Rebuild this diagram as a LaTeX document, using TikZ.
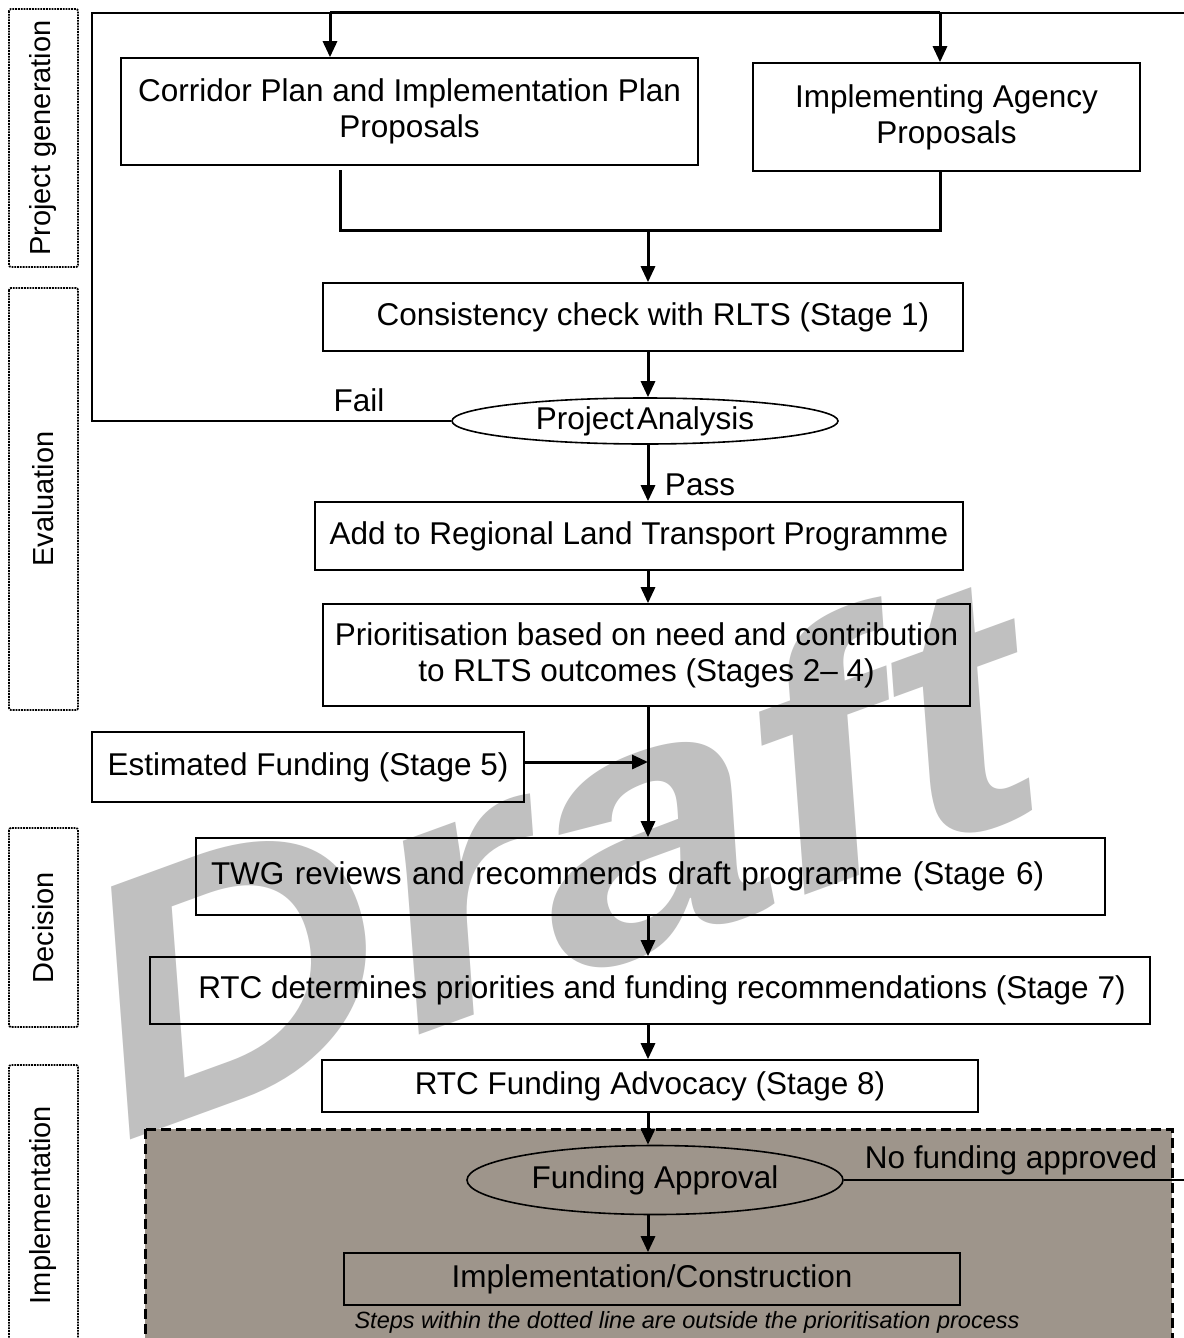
\documentclass[tikz,border=0pt]{standalone}
\usepackage{fontspec}
\setmainfont{Liberation Sans}
\usetikzlibrary{arrows.meta,shapes.geometric}
\definecolor{outsidegrey}{RGB}{158,149,139}
\definecolor{draftgrey}{RGB}{192,192,192}

\begin{document}
\begin{tikzpicture}[x=1pt,y=-1pt,
    font=\fontsize{31.5}{36}\selectfont,
    box/.style={draw, line width=1.6pt, inner sep=0pt, align=center},
    oval/.style={draw, ellipse, line width=1.6pt, inner sep=0pt},
    phase/.style={draw, densely dotted, line width=1.8pt, rounded corners=2pt,
                  rotate=90, inner sep=0pt, minimum height=69pt,
                  font=\fontsize{29}{34}\selectfont},
    flow/.style={line width=3pt, -{Triangle[length=16pt,width=14pt]}},
    link/.style={line width=3pt},
    loopback/.style={line width=1.6pt},
  ]
  \path[use as bounding box, fill=white] (0,0) rectangle (1183,1338);

  % watermark
  \begin{scope}[shift={(123,1143)}, rotate=20, xscale=1.2, xslant=0.04]
    \node[transform shape, anchor=base west, inner sep=0pt, text=draftgrey,
          font=\fontsize{355}{355}\selectfont\bfseries\itshape] (draft) at (0,0) {Draft};
  \end{scope}

  % phases down the left side
  \node[phase, minimum width=258pt] (pgen) at (43.5,138) {Project generation};
  \node[phase, minimum width=422pt] (peval) at (43.5,499) {Evaluation};
  \node[phase, minimum width=199pt] (pdec) at (43.5,927.5) {Decision};
  \node[phase, minimum width=280pt] (pimpl) at (43.5,1205) {Implementation};

  % steps outside the prioritisation process
  \draw[fill=outsidegrey, line width=3pt, dash pattern=on 10pt off 5pt]
    (145,1129) rectangle (1172,1345);

  \node[box, minimum width=577pt, minimum height=107pt] (corridor) at (409.5,111.5)
    {Corridor Plan and Implementation Plan\\Proposals};
  \node[box, minimum width=387pt, minimum height=108pt] (agency) at (946.5,117)
    {Implementing Agency\\Proposals};
  \node[box, minimum width=640pt, minimum height=68pt] (check) at (643,317)
    {\hspace*{20pt}Consistency check with RLTS (Stage 1)};
  \node[oval, minimum width=386pt, minimum height=46pt] (analysis) at (645,421)
    {{\spaceskip=3pt Project Analysis}};
  \node[box, minimum width=648pt, minimum height=68pt] (add) at (639,536)
    {Add to Regional Land Transport Programme};
  \node[box, minimum width=647pt, minimum height=102pt] (prior) at (646.5,655)
    {Prioritisation based on need and contribution\\to RLTS outcomes (Stages 2– 4)};
  \node[box, minimum width=432pt, minimum height=70pt] (estimate) at (308,767)
    {Estimated Funding (Stage 5)};
  \node[box, minimum width=909pt, minimum height=77pt, text width=879pt, align=left,
        inner xsep=15pt] (twg) at (650.5,876.5)
    {TWG reviews and recommends draft programme (Stage 6)};
  \node[box, minimum width=1000pt, minimum height=67pt] (rtc) at (650,990.5)
    {\hspace*{24pt}RTC determines priorities and funding recommendations (Stage 7)};
  \node[box, minimum width=656pt, minimum height=52pt] (advocacy) at (650,1086)
    {RTC Funding Advocacy (Stage 8)};
  \node[oval, minimum width=376pt, minimum height=69pt] (approval) at (655,1180)
    {Funding Approval};
  \node[box, minimum width=616pt, minimum height=52pt] (build) at (652,1279)
    {Implementation/Construction};
  \node[font=\fontsize{23.5}{26}\selectfont\itshape, inner sep=0pt] (note) at (687,1322)
    {Steps within the dotted line are outside the prioritisation process};

  \node[inner sep=0pt] (fail) at (359,400) {Fail};
  \node[inner sep=0pt] (pass) at (700,485) {Pass};
  \node[inner sep=0pt] (nofund) at (1011,1160) {No funding approved};

  \coordinate (spine) at (648,0);
  \coordinate (feedL) at (330,13);
  \coordinate (feedR) at (940,13);
  \coordinate (failcorner) at (92,13);
  \coordinate (offpage) at (1190,13);
  \coordinate (gather) at (340,170);
  \coordinate (merge) at (648,230);
  \coordinate (join) at (648,762);
  \coordinate (nofundend) at (1190,1180);

  % feed from the top
  \draw[link] (feedL) -- (feedR);
  \draw[loopback] (feedR) -- (offpage);
  \draw[flow] (feedL) -- (feedL |- corridor.north);
  \draw[flow] (feedR) -- (feedR |- agency.north);

  % proposals come together
  \draw[link] (gather) |- (merge) -| (agency.south -| feedR);
  \draw[flow] (merge) -- (check.north -| merge);
  \draw[flow] (check.south -| spine) -- (analysis.north -| spine);
  \draw[loopback] (analysis.west) -| (failcorner) -- (feedL);
  \draw[flow] (analysis.south -| spine) -- (add.north -| spine);
  \draw[flow] (add.south -| spine) -- (prior.north -| spine);
  \draw[flow] (prior.south -| spine) -- (twg.north -| spine);
  \draw[flow] (estimate.east |- join) -- (join);
  \draw[flow] (twg.south -| spine) -- (rtc.north -| spine);
  \draw[flow] (rtc.south -| spine) -- (advocacy.north -| spine);
  \draw[flow] (advocacy.south -| spine) -- (approval.north -| spine);
  \draw[flow] (approval.south -| spine) -- (build.north -| spine);
  \draw[loopback] (approval.east) -- (nofundend);
\end{tikzpicture}
\end{document}
